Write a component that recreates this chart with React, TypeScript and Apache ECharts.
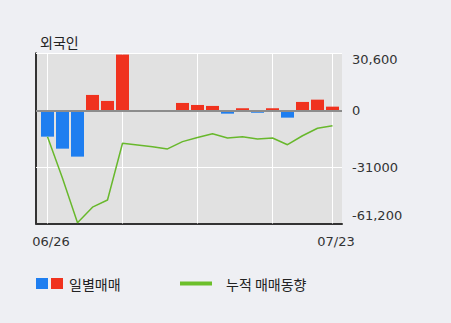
import React, { useEffect, useRef } from "react";
import * as echarts from "echarts";

const dates = ["06/26","06/27","06/28","07/01","07/02","07/03","07/04","07/05","07/08","07/09","07/10","07/11","07/12","07/15","07/16","07/17","07/18","07/19","07/22","07/23"];
const dailyNet = [-14200,-20750,-25100,8570,5300,30600,0,0,0,4200,3100,2570,-1640,1310,-1090,1310,-3820,4750,6000,2180];
const cumulative = [-14200,-36900,-61200,-52700,-48800,-17800,-18700,-19650,-20900,-16900,-14700,-12600,-14900,-14200,-15500,-14900,-18600,-13700,-9600,-8200];
const xLabelIdx = [0, 19];
const vGridIdx = [0, 5, 10, 15, 19];
const yLabelAnchors = [28100, 0, -31000, -57200];
const yLabelTexts = ["30,600", "0", "-31000", "-61,200"];
const Y_MIN = -61600;
const Y_MAX = 31300;

const RED = "#f0321e";
const BLUE = "#1e7ef0";
const GREEN = "#68b82c";
const FONT = "DejaVu Sans";
const KFONT = "Noto Sans CJK KR";

export default function App() {
  const ref = useRef<HTMLDivElement>(null);
  useEffect(() => {
    if (!ref.current) return;
    const chart = echarts.init(ref.current, null, { renderer: "svg" });
    const option: any = {
      animation: false,
      backgroundColor: "#eeeff3",
      title: {
        text: "외국인",
        left: 35,
        top: 30,
        textStyle: { fontFamily: KFONT, fontSize: 14, fontWeight: "normal", color: "#222" },
      },
      grid: {
        left: 36,
        top: 53.3,
        width: 306,
        height: 170.2,
        show: true,
        backgroundColor: "#e1e1e1",
        borderWidth: 0,
      },
      xAxis: {
        type: "value",
        min: -0.7667,
        max: 19.633,
        axisLine: { show: true, onZero: false, lineStyle: { color: "#333", width: 2 } },
        axisTick: { show: false },
        splitLine: { show: false },
        axisLabel: {
          customValues: xLabelIdx,
          formatter: (v: number) => dates[Math.round(v)] ?? "",
          fontFamily: FONT,
          fontSize: 13,
          color: "#333",
          margin: 11,
          padding: [0, 0, 0, 7],
        },
      },
      yAxis: [
        {
          type: "value",
          min: Y_MIN,
          max: Y_MAX,
          position: "left",
          axisLine: { show: true, onZero: false, lineStyle: { color: "#333", width: 2 } },
          axisTick: { show: false },
          axisLabel: { show: false },
          splitLine: { show: false },
        },
        {
          type: "value",
          min: Y_MIN,
          max: Y_MAX,
          position: "right",
          axisLine: { show: false, onZero: false },
          axisTick: { show: false },
          splitLine: { show: false },
          axisLabel: {
            customValues: yLabelAnchors,
            formatter: (v: number) => {
              const i = yLabelAnchors.indexOf(v);
              return i >= 0 ? yLabelTexts[i] : "";
            },
            fontFamily: FONT,
            fontSize: 13,
            color: "#333",
            margin: 10,
          },
        },
      ],
      series: [
        {
          type: "line",
          data: [],
          z: 1,
          silent: true,
          markLine: {
            z: 1,
            silent: true,
            symbol: ["none", "none"],
            label: { show: false },
            lineStyle: { color: "#ffffff", width: 1, type: "solid" },
            emphasis: { disabled: true },
            data: [
              ...vGridIdx.map((x) => ({ xAxis: x })),
              { yAxis: -31000 },
              { yAxis: Y_MAX },
            ],
          },
        },
        {
          type: "bar",
          barWidth: 13,
          z: 2,
          data: dailyNet.map((v, i) => [i, v]),
          itemStyle: {
            color: (p: any) => (p.value[1] >= 0 ? RED : BLUE),
          },
        },
        {
          type: "line",
          data: [],
          z: 3,
          silent: true,
          markLine: {
            z: 3,
            silent: true,
            symbol: ["none", "none"],
            label: { show: false },
            lineStyle: { color: "#8c8c8c", width: 2, type: "solid" },
            emphasis: { disabled: true },
            data: [{ yAxis: 0 }],
          },
        },
        {
          type: "line",
          z: 4,
          data: cumulative.map((v, i) => [i, v]),
          symbol: "none",
          lineStyle: { color: GREEN, width: 1.5 },
        },
      ],
      graphic: [
        { type: "rect", shape: { x: 36, y: 278, width: 12, height: 11 }, style: { fill: BLUE } },
        { type: "rect", shape: { x: 51, y: 278, width: 12, height: 11 }, style: { fill: RED } },
        {
          type: "text",
          x: 69,
          y: 283.5,
          style: { text: "일별매매", fontFamily: KFONT, fontSize: 14, fill: "#222", verticalAlign: "middle" },
        },
        {
          type: "line",
          shape: { x1: 180, y1: 283.5, x2: 212, y2: 283.5 },
          style: { stroke: "#6cbf2a", lineWidth: 4 },
        },
        {
          type: "text",
          x: 226,
          y: 283.5,
          style: { text: "누적 매매동향", fontFamily: KFONT, fontSize: 14, fill: "#222", verticalAlign: "middle" },
        },
      ],
    };
    chart.setOption(option);
    return () => chart.dispose();
  }, []);
  return (
    <div
      ref={ref}
      style={{ position: "absolute", left: 0, top: 0, width: 451, height: 323 }}
    />
  );
}
